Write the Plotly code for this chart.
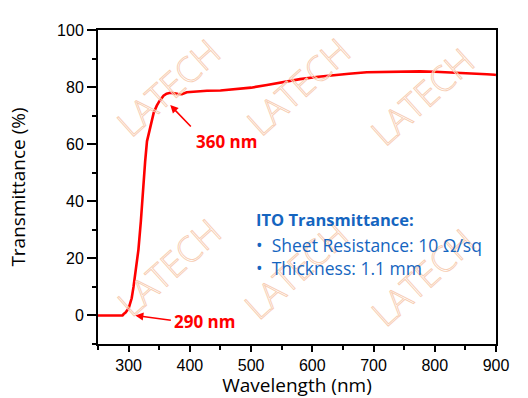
import plotly.graph_objects as go

wavelength = [250, 260, 270, 280, 290, 292, 295, 300, 305, 308, 312, 316, 320, 322, 325, 327, 330,
              335, 341, 346, 350, 357, 362, 368, 371, 375, 381, 387, 395, 400, 417, 428, 450,
              471, 500, 526, 550, 580, 610, 634, 660, 689, 720, 743, 776, 800, 825, 850, 868,
              885, 898, 900]
transmittance = [0, 0, 0, 0, 0, 0.5, 1, 2.5, 6, 10, 17, 23, 33, 40, 48, 54, 61,
                 66, 71, 73.5, 75, 77, 77.7, 78, 78, 77.8, 77.6, 77.5, 78.2, 78.3, 78.5, 78.7, 78.8,
                 79.2, 79.8, 80.7, 81.7, 82.8, 83.6, 84.2, 84.7, 85.2, 85.4, 85.5, 85.5, 85.4, 85.2, 85.0, 84.8,
                 84.5, 84.3, 84.2]

x_ticks = [300, 400, 500, 600, 700, 800, 900]
y_ticks = [0, 20, 40, 60, 80, 100]

info_title = "ITO Transmittance:"
info_lines = ["•  Sheet Resistance: 10 Ω/sq", "•  Thickness: 1.1 mm"]

watermark_pos = [(168, 88), (298, 87), (422, 97), (168, 267), (295, 270), (422, 277)]

fig = go.Figure()
fig.add_trace(go.Scatter(x=wavelength, y=transmittance, mode="lines",
                         line=dict(color="#ff0000", width=2.6), showlegend=False,
                         hoverinfo="skip"))

W, H = 528, 398
L, R, T, B = 98, 32, 30, 54

annotations = []
for (px, py) in watermark_pos:
    annotations.append(dict(
        x=(px - L) / (W - L - R), y=(H - B - py) / (H - T - B), xref="paper", yref="paper",
        xanchor="center", yanchor="middle",
        text="LATECH", showarrow=False, textangle=-42,
        font=dict(family="Open Sans", size=35, color="rgba(246,200,170,0.35)")))

red_font = dict(family="Open Sans", size=17, color="#ff0000", weight="bold")
annotations += [
    dict(x=368, y=73.7, ax=22, ay=23, text="", showarrow=True, arrowhead=2, arrowsize=1,
         arrowwidth=1.6, arrowcolor="#ff0000"),
    dict(x=459.8, y=60.8, text="360 nm", showarrow=False, font=red_font,
         xanchor="center", yanchor="middle"),
    dict(x=311, y=0, ax=37, ay=5, text="", showarrow=True, arrowhead=2, arrowsize=1,
         arrowwidth=1.6, arrowcolor="#ff0000"),
    dict(x=423.9, y=-2.2, text="290 nm", showarrow=False, font=red_font,
         xanchor="center", yanchor="middle"),
]

blue = "#1565c0"
annotations.append(dict(x=504, y=33.5, text="<b>" + info_title + "</b>", showarrow=False,
                        xanchor="left", yanchor="middle",
                        font=dict(family="Open Sans", size=16.5, color=blue)))
for line, yy in zip(info_lines, [24.7, 16.6]):
    annotations.append(dict(x=505, y=yy, text=line, showarrow=False, xanchor="left", yanchor="middle",
                            font=dict(family="Open Sans", size=17.5, color=blue)))

fig.update_layout(
    width=W, height=H, margin=dict(l=L, r=R, t=T, b=B, autoexpand=False),
    plot_bgcolor="white", paper_bgcolor="white",
    annotations=annotations,
    xaxis=dict(range=[250, 900], tickvals=x_ticks, ticks="outside", ticklen=6, tickwidth=1.5,
               tickcolor="black", showline=True, linecolor="black", linewidth=2, mirror=True,
               showgrid=False, zeroline=False, automargin=False,
               minor=dict(dtick=50, ticks="outside", ticklen=4, tickwidth=1.5, tickcolor="black",
                          tick0=250),
               tickfont=dict(family="Arial, Liberation Sans", size=16, color="black"),
               title=dict(text="Wavelength (nm)", font=dict(family="Open Sans", size=19, color="black"),
                          standoff=0)),
    yaxis=dict(range=[-10, 100], tickvals=y_ticks, ticks="outside", ticklen=9, tickwidth=1.5,
               tickcolor="black", showline=True, linecolor="black", linewidth=2, mirror=True,
               showgrid=False, zeroline=False, automargin=False,
               minor=dict(dtick=10, ticks="outside", ticklen=4, tickwidth=1.5, tickcolor="black",
                          tick0=0),
               tickfont=dict(family="Arial, Liberation Sans", size=16, color="black"),
               title=dict(text="Transmittance (%)", font=dict(family="Open Sans", size=19, color="black"),
                          standoff=26)),
)

post = """
document.body.style.margin='0';
document.body.style.overflow='hidden';
(function(){
  var gd = document.getElementById('{plot_id}');
  function outline(){
    var els = gd.querySelectorAll('.annotation-text');
    els.forEach(function(el){
      if (el.textContent === 'LATECH') {
        el.style.fill = 'rgba(255,255,255,0.6)';
        el.style.stroke = '#f7cdb2';
        el.style.strokeWidth = '0.9px';
        el.style.fontWeight = '300';
      }
    });
  }
  outline();
  if (gd.on) gd.on('plotly_afterplot', outline);
})();
"""
fig.write_html("out.html", config={"displayModeBar": False}, post_script=post)
